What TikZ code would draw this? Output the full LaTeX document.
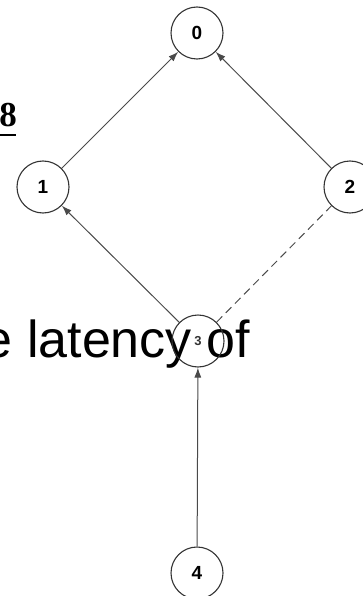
\documentclass[tikz,border=0pt]{standalone}
\usepackage{fontspec}
\setmainfont{Liberation Sans}
\newfontfamily\serifbf{Liberation Serif}
\usetikzlibrary{arrows.meta}

\definecolor{edgegray}{HTML}{4A4A4A}
\definecolor{ringgray}{HTML}{333333}

\begin{document}
\begin{tikzpicture}[x=1pt, y=-1pt,
    vert/.style={circle, draw=ringgray, line width=1.1pt, minimum size=52pt, inner sep=0pt, font=\fontsize{19}{19}\selectfont\bfseries},
    dep/.style={draw=edgegray, line width=1pt, -{Latex[length=10pt, width=7pt]}}]
  \useasboundingbox (0,0) rectangle (363,596);
  \clip (0,0) rectangle (363,596);
  % slide text behind the graph
  \node[anchor=base east, inner sep=0pt, font=\serifbf\bfseries\fontsize{35}{35}\selectfont] (num) at (17,127) {8};
  \draw[line width=2pt] (0,135) -- (16,135);
  \node[anchor=base east, inner sep=0pt, font=\fontsize{52}{52}\selectfont] (txt) at (250,357) {e latency of};
  % vertices
  \node[vert] (n0) at (197,33) {0};
  \node[vert] (n1) at (43,187) {1};
  \node[vert] (n2) at (350,187) {2};
  \node[vert, font=\fontsize{13}{13}\selectfont\bfseries\color{ringgray}] (n3) at (198,341) {3};
  \node[vert] (n4) at (197,573) {4};
  % dependencies
  \draw[dep] (n1) -- (n0);
  \draw[dep] (n2) -- (n0);
  \draw[dep] (n3) -- (n1);
  \draw[dep] (n4) -- (n3);
  \draw[draw=edgegray, line width=1pt, dash pattern=on 8pt off 5pt] (n3) -- (n2);
\end{tikzpicture}
\end{document}
